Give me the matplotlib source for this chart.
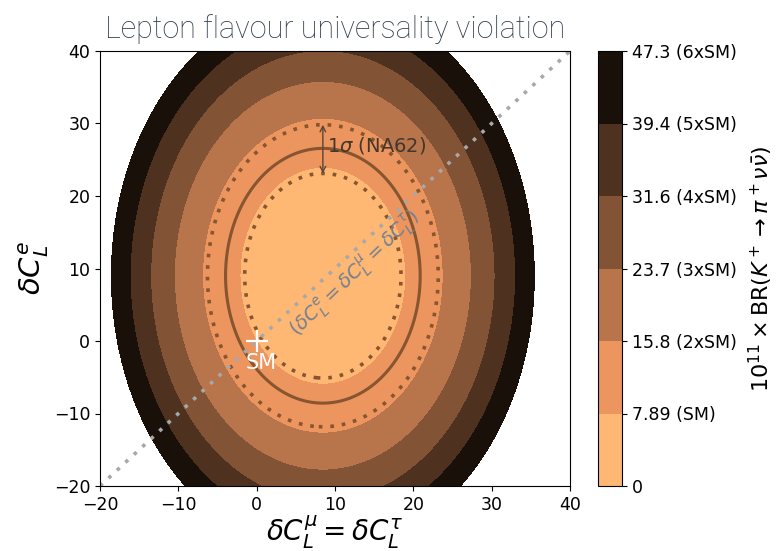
import numpy as np
import matplotlib
matplotlib.use("Agg")
import matplotlib.pyplot as plt

# Branching ratio model: BR = k * [2 (dC_mu,tau - c_mt)^2 + (dC_e - c_e)^2] + offset
br_sm = 7.89              # 10^11 x BR(K+ -> pi+ nu nubar) in the SM
br_offset = 0.74          # part of BR independent of the real parts of C_L
center_mt = 8.45          # shift of the real part for mu and tau
center_e = 9.0            # shift of the real part for e
k_norm = (br_sm - br_offset) / (2 * center_mt**2 + center_e**2)

# NA62 measurement (central, lower, upper)
na62_central = 10.6
na62_low = 7.1
na62_high = 14.6

# Filled contour levels and colourbar labels
levels = [0, 7.89, 15.8, 23.7, 31.6, 39.4, 47.3]
level_labels = ["0", "7.89 (SM)", "15.8 (2xSM)", "23.7 (3xSM)",
                "31.6 (4xSM)", "39.4 (5xSM)", "47.3 (6xSM)"]

x_range = (-20, 40)
y_range = (-20, 40)
ticks = [-20, -10, 0, 10, 20, 30, 40]


def branching_ratio(dc_mt, dc_e):
    return k_norm * (2 * (dc_mt - center_mt) ** 2 + (dc_e - center_e) ** 2) + br_offset


def top_of_level(level):
    return center_e + np.sqrt((level - br_offset) / k_norm)


x = np.linspace(*x_range, 700)
y = np.linspace(*y_range, 700)
X, Y = np.meshgrid(x, y)
Z = branching_ratio(X, Y)

fig = plt.figure(figsize=(7.76, 5.51), dpi=100)
ax = fig.add_axes([100 / 776, 65 / 551, 470 / 776, 435 / 551])
cax = fig.add_axes([598 / 776, 65 / 551, 24 / 776, 435 / 551])

cf = ax.contourf(X, Y, Z, levels=levels, cmap="copper_r")

line_col = "#87552f"
ax.contour(X, Y, Z, levels=[na62_central], colors=[line_col], linewidths=2.2)
ax.contour(X, Y, Z, levels=[na62_low, na62_high], colors=[line_col],
           linewidths=2.6, linestyles=[(0, (1, 2.2))])

# Lepton-flavour-universal direction
ax.plot(x_range, y_range, color="#a8a8a8", lw=2.6, ls=(0, (1, 2.2)))
ax.text(12.6, 9.3, r"$(\delta C_L^e = \delta C_L^\mu = \delta C_L^\tau)$",
        rotation=44, color="#72808f", fontsize=14, ha="center", va="center",
        rotation_mode="anchor")

# 1 sigma band of NA62
y_lo = top_of_level(na62_low)
y_hi = top_of_level(na62_high)
ax.annotate("", xy=(center_mt, y_hi), xytext=(center_mt, y_lo),
            arrowprops=dict(arrowstyle="<->", color="#5b4634", lw=1.0,
                            shrinkA=0, shrinkB=0))
ax.text(center_mt + 0.5, (y_lo + y_hi) / 2 + 0.5, r"1$\sigma$ (NA62)",
        color="#43362b", fontsize=14, ha="left", va="center")

# Standard Model point
ax.plot([0], [0], marker="+", color="white", markersize=16, mew=1.6)
ax.text(0.6, -1.6, "SM", color="white", fontsize=15, ha="center", va="top")

ax.set_xlim(*x_range)
ax.set_ylim(*y_range)
ax.set_xticks(ticks)
ax.set_yticks(ticks)
ax.tick_params(labelsize=12.5)
ax.set_xlabel(r"$\delta C_L^\mu = \delta C_L^\tau$", fontsize=20, labelpad=0)
ax.set_ylabel(r"$\delta C_L^e$", fontsize=21, labelpad=2)
ax.set_title("Lepton flavour universality violation", family="Roboto",
             fontweight="light", fontsize=22, color="#2f3c4c", pad=9)

cb = fig.colorbar(cf, cax=cax, ticks=levels)
cb.set_ticklabels(level_labels)
cb.ax.tick_params(labelsize=12.5)
cb.set_label(r"$10^{11} \times \mathrm{BR}(K^+ \to \pi^+ \nu\bar{\nu})$",
             fontsize=16, labelpad=7)

fig.savefig("out.png", dpi=100)
